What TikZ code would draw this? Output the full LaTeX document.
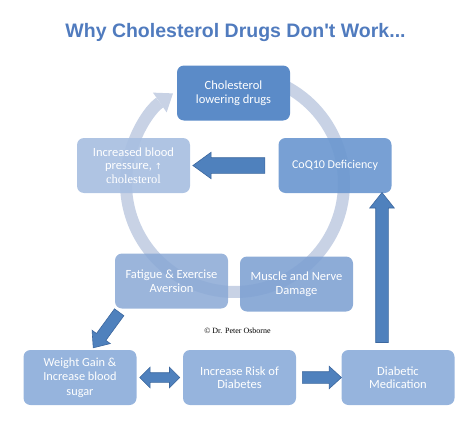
\documentclass[tikz,border=0pt]{standalone}
\usepackage{fontspec}
\newfontfamily\carlito{Carlito}
\newfontfamily\arialfont[Ligatures=TeXOff]{Liberation Sans}
\newfontfamily\timesfont{Liberation Serif}
\newfontfamily\dejavu{DejaVu Sans}
\usetikzlibrary{shapes.arrows,arrows.meta}
\definecolor{titleblue}{RGB}{80,123,190}
\definecolor{ringgrey}{RGB}{200,210,229}
\definecolor{arrfill}{RGB}{79,129,189}
\definecolor{arrline}{RGB}{60,103,158}
\definecolor{cchol}{RGB}{91,139,200}
\definecolor{ccoq}{RGB}{108,152,208}
\definecolor{cbp}{RGB}{168,191,225}
\definecolor{cfat}{RGB}{137,168,213}
\definecolor{cmus}{RGB}{125,160,210}
\definecolor{cbot}{RGB}{141,174,218}
\tikzset{
  box/.style={rounded corners=7pt, minimum width=113pt, minimum height=55pt,
    inner sep=2pt, align=center, text=white, fill opacity=.92, text opacity=1,
    font=\carlito\fontsize{12.5}{13.5}\selectfont},
  blk/.style={draw=arrline, fill=arrfill, line width=.6pt, inner xsep=0pt,
    minimum width=0pt, midway, sloped, allow upside down},
  ring/.style={draw=ringgrey, line width=12pt,
    -{Triangle[width=24pt,length=16pt,line width=0pt]}}
}
\begin{document}
\begin{tikzpicture}[x=1pt,y=-1pt]
  \useasboundingbox (0,0) rectangle (474,431);
  % title
  \node[font=\arialfont\bfseries\fontsize{19.5}{22}\selectfont, text=titleblue, anchor=base]
    (title) at (235.5,37) {Why Cholesterol Drugs Don't Work...};
  % cycle ring
  \coordinate (ctr) at (235,183);
  \draw[ring] ([shift={(80:109pt)}]ctr) arc[start angle=80, end angle=-235.3, radius=109pt];
  % boxes
  \node[box, fill=cchol, fill opacity=1] (chol) at (233.5,93) {Cholesterol\\lowering drugs};
  \node[box, fill=cbp] (bp) at (133.5,165.5)
    {Increased blood\\pressure, {\dejavu\fontsize{8.5}{9}\selectfont ↑}\\{\timesfont\fontsize{12.5}{13.5}\selectfont cholesterol}};
  \node[box, fill=ccoq, font=\carlito\fontsize{12}{13.5}\selectfont] (coq) at (335,165.5) {CoQ10 Deficiency};
  \node[box, fill=cfat, fill opacity=.85] (fat) at (171.5,281) {Fatigue \& Exercise\\Aversion};
  \node[box, fill=cmus, fill opacity=.88] (mus) at (296.5,284) {Muscle and Nerve\\Damage};
  \node[box, fill=cbot, font=\carlito\fontsize{12.3}{14.5}\selectfont] (wg) at (80,377.5) {Weight Gain \&\\Increase blood\\sugar};
  \node[box, fill=cbot] (ir) at (239.5,377.5) {Increase Risk of\\Diabetes};
  \node[box, fill=cbot] (dm) at (398,377.5) {Diabetic\\Medication};
  \node[font=\timesfont\fontsize{8}{9}\selectfont] (copy) at (237.5,331) {© Dr. Peter Osborne};
  % block arrows
  \path (coq.west) -- (bp.east) node[blk, single arrow, minimum height=72pt, inner ysep=7.5pt,
    single arrow head extend=5.5pt, single arrow tip angle=72] {};
  \path ([xshift=-16pt]dm.north) -- ([xshift=-16pt]dm.north |- coq.south) node[blk, single arrow,
    minimum height=150pt, inner ysep=6pt, single arrow head extend=6pt, single arrow tip angle=77] {};
  \path ([xshift=7pt]fat.south west) -- ([xshift=-42pt,yshift=4pt]wg.north east) node[blk, single arrow,
    minimum height=44pt, inner ysep=5.5pt, single arrow head extend=5.5pt, single arrow tip angle=80] {};
  \path (wg.east) -- (ir.west) node[blk, double arrow, minimum height=40pt, inner ysep=4.5pt,
    double arrow head extend=5.5pt, double arrow tip angle=90] {};
  \path (ir.east) -- (dm.west) node[blk, single arrow, minimum height=39pt, inner ysep=5.5pt,
    single arrow head extend=5.5pt, single arrow tip angle=85] {};
\end{tikzpicture}
\end{document}
